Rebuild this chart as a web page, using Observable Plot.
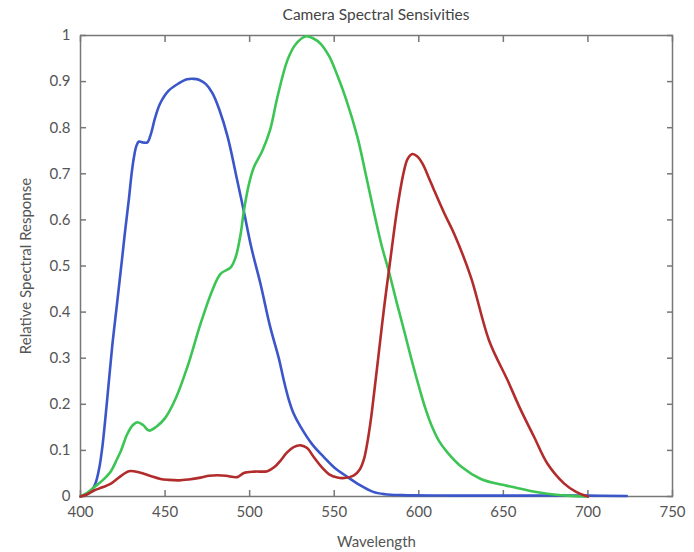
<!DOCTYPE html>
<html>
<head>
<meta charset="utf-8">
<script src="https://cdn.jsdelivr.net/npm/d3@7"></script>
<script src="https://cdn.jsdelivr.net/npm/@observablehq/plot@0.6"></script>
<style>
  body { margin: 0; background: #fff; font-family: Lato, "Open Sans", sans-serif; }
  #wrap { position: relative; width: 694px; height: 552px; }
  #title { position: absolute; left: 80px; width: 592px; top: 5px; text-align: center; font-size: 15.5px; color: #444; }
</style>
</head>
<body>
<div id="wrap"><div id="title">Camera Spectral Sensivities</div></div>
<script>
const xTicks = [400, 450, 500, 550, 600, 650, 700, 750];
const yTicks = [0, 0.1, 0.2, 0.3, 0.4, 0.5, 0.6, 0.7, 0.8, 0.9, 1];

const blueX = [400,404,407,409,411,413,415.5,418.7,421.5,424.7,426.5,428.6,430.2,431.6,433,434.5,437,439.5,441.5,444,447,452,458,463,467,470,474,478,482,487,492.7,496.6,501,506.5,512,517.3,520,523,526,530,537,544,550,558,565,573,580,590,620,660,700,723];
const blueY = [0,0.005,0.015,0.03,0.06,0.11,0.2,0.324,0.415,0.52,0.58,0.645,0.7,0.736,0.76,0.77,0.768,0.768,0.785,0.82,0.852,0.88,0.896,0.905,0.906,0.904,0.895,0.875,0.84,0.78,0.685,0.618,0.54,0.46,0.37,0.299,0.255,0.212,0.18,0.152,0.113,0.085,0.063,0.042,0.025,0.01,0.005,0.003,0.002,0.002,0.002,0.001];

const greenX = [400,404,408,413,418,421.7,424,427.6,431,433.7,437,440.5,445,450,456.2,463.1,471,477.9,482.8,488.8,491.7,494.7,496.6,499.6,502.5,507.5,512,516.4,522.3,527,533,538,542,547,552,557,563.7,568,573.6,578,582.4,587,591.3,595.5,600.2,604,608,612,617,625,636.7,646,656.4,666,676,688,700];
const greenY = [0,0.008,0.02,0.035,0.055,0.082,0.1,0.135,0.155,0.161,0.155,0.143,0.152,0.17,0.212,0.28,0.375,0.447,0.483,0.497,0.519,0.57,0.62,0.678,0.714,0.75,0.794,0.866,0.946,0.98,0.998,0.993,0.982,0.955,0.912,0.862,0.78,0.71,0.615,0.545,0.487,0.42,0.36,0.3,0.237,0.19,0.15,0.12,0.095,0.065,0.038,0.028,0.02,0.012,0.006,0.002,0];

const redX = [400,404,408,413,418,423,428.6,435,441,447.3,452,458.2,464,471,476,480.9,486,492.7,496.6,503,510.5,515,518.3,522,526,530.2,534,538,543,547,551.9,556,561.7,565,567.5,569.5,571.6,573.6,576,579.5,583.4,587.4,591.3,593.5,596.3,599,602.2,606.1,609.1,615,620.9,630.8,641.6,652.5,660,668.2,676.1,686,693,700];
const redY = [0,0.005,0.013,0.02,0.028,0.042,0.055,0.052,0.045,0.038,0.036,0.035,0.037,0.041,0.045,0.046,0.045,0.042,0.051,0.054,0.055,0.065,0.078,0.095,0.107,0.111,0.105,0.085,0.062,0.048,0.041,0.04,0.046,0.058,0.08,0.115,0.165,0.225,0.3,0.41,0.52,0.628,0.707,0.733,0.743,0.738,0.722,0.69,0.664,0.615,0.57,0.476,0.338,0.252,0.19,0.129,0.071,0.028,0.01,0];

const toRows = (xs, ys) => xs.map((x, i) => ({x, y: ys[i]}));
const blue = toRows(blueX, blueY);
const green = toRows(greenX, greenY);
const red = toRows(redX, redY);

const lineOpts = {x: "x", y: "y", strokeWidth: 2.6, curve: "catmull-rom"};

const chart = Plot.plot({
  width: 694,
  height: 552,
  marginLeft: 80,
  marginRight: 22,
  marginTop: 35,
  marginBottom: 56,
  style: {fontFamily: "Lato, 'Open Sans', sans-serif", fontSize: "15px", color: "#555", background: "#fff"},
  x: {domain: [400, 750]},
  y: {domain: [0, 1]},
  marks: [
    Plot.axisX({ticks: xTicks, tickSize: 0, tickPadding: 10, label: "Wavelength", labelAnchor: "center", labelArrow: "none", labelOffset: 50, fontSize: 15, fill: "#555"}),
    Plot.axisX({ticks: xTicks, tickSize: -6, tickFormat: () => "", label: null, stroke: "#777", strokeWidth: 1.5}),
    Plot.axisX({anchor: "top", ticks: xTicks, tickSize: -6, tickFormat: () => "", label: null, stroke: "#777", strokeWidth: 1.5}),
    Plot.axisY({ticks: yTicks, tickSize: 0, tickPadding: 10, tickFormat: d3.format("~g"), label: "Relative Spectral Response", labelAnchor: "center", labelArrow: "none", labelOffset: 60, fontSize: 15, fill: "#555"}),
    Plot.axisY({ticks: yTicks, tickSize: -6, tickFormat: () => "", label: null, stroke: "#777", strokeWidth: 1.5}),
    Plot.axisY({anchor: "right", ticks: yTicks, tickSize: -6, tickFormat: () => "", label: null, stroke: "#777", strokeWidth: 1.5}),
    Plot.frame({stroke: "#777", strokeWidth: 1.5}),
    Plot.line(blue, {...lineOpts, stroke: "#3a56c9"}),
    Plot.line(green, {...lineOpts, stroke: "#3cc454"}),
    Plot.line(red, {...lineOpts, stroke: "#b22c2c"})
  ]
});
document.getElementById("wrap").appendChild(chart);
</script>
</body>
</html>
